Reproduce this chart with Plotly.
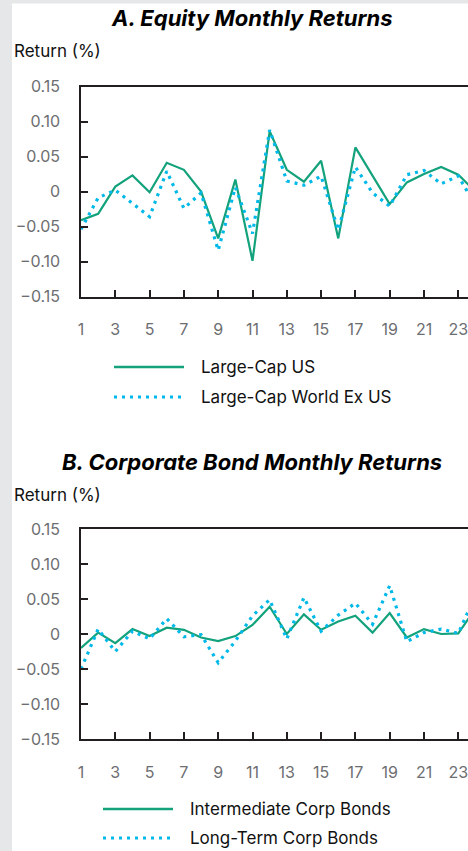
import plotly.graph_objects as go

# Monthly return series (decimal returns)
months = list(range(1, 25))
large_cap_us = [-0.041, -0.032, 0.007, 0.023, -0.001, 0.041, 0.031, 0.000, -0.067, 0.017,
                -0.099, 0.086, 0.031, 0.014, 0.044, -0.067, 0.063, 0.022, -0.018, 0.013,
                0.025, 0.035, 0.024, 0.000]
large_cap_world_ex_us = [-0.054, -0.009, 0.002, -0.017, -0.036, 0.029, -0.024, -0.002, -0.084, 0.006,
                         -0.060, 0.088, 0.015, 0.009, 0.022, -0.055, 0.035, -0.002, -0.021, 0.024,
                         0.030, 0.011, 0.022, -0.020]
intermediate_corp = [-0.020, 0.002, -0.013, 0.007, -0.003, 0.009, 0.006, -0.005, -0.010, -0.003,
                     0.013, 0.039, 0.000, 0.028, 0.006, 0.018, 0.026, 0.002, 0.030, -0.005,
                     0.007, 0.000, 0.001, 0.036]
long_term_corp = [-0.050, 0.007, -0.025, 0.004, -0.007, 0.022, -0.004, -0.001, -0.041, -0.010,
                  0.026, 0.049, -0.007, 0.052, 0.004, 0.027, 0.044, 0.014, 0.069, -0.011,
                  0.002, 0.007, 0.001, 0.055]

# Axis tick labels
x_tickvals = list(range(1, 24, 2))
x_ticktext = [str(v) for v in x_tickvals]
y_tickvals = [0.15, 0.10, 0.05, 0.0, -0.05, -0.10, -0.15]
y_ticktext = ["0.15", "0.10", "0.05", "0", "\u22120.05", "\u22120.10", "\u22120.15"]

panel_titles = ["A. Equity Monthly Returns", "B. Corporate Bond Monthly Returns"]
y_title = "Return (%)"
legend_names = [["Large-Cap US", "Large-Cap World Ex US"],
                ["Intermediate Corp Bonds", "Long-Term Corp Bonds"]]

W, H = 468, 851
GREEN = "#13a27c"
CYAN = "#00b9e8"
AXIS = "#231f20"
TICKFONT = "#6d6e71"
FONT = "Inter, Roboto, sans-serif"
DOT = "3px,5px"


def px(x):
    return x / W


def py(y):
    return 1 - y / H


fig = go.Figure()

series = [(large_cap_us, large_cap_world_ex_us, "x", "y"),
          (intermediate_corp, long_term_corp, "x2", "y2")]
for (solid, dotted, xa, ya), names in zip(series, legend_names):
    fig.add_trace(go.Scatter(x=months, y=solid, mode="lines", name=names[0],
                             line=dict(color=GREEN, width=2.2), xaxis=xa, yaxis=ya,
                             showlegend=False))
    fig.add_trace(go.Scatter(x=months, y=dotted, mode="lines", name=names[1],
                             line=dict(color=CYAN, width=3.2, dash=DOT), xaxis=xa, yaxis=ya,
                             showlegend=False))

x_left = 81
x_range = [1, 1 + (W - x_left) / 17.15]
panels = [dict(top=86.5, bottom=296.5), dict(top=529, bottom=739)]

axis_common = dict(showline=True, linecolor=AXIS, linewidth=1.5, showgrid=False, zeroline=False,
                   ticks="inside", ticklen=7, tickwidth=1.5, tickcolor=AXIS, automargin=False,
                   ticklabeloverflow="allow",
                   tickfont=dict(family=FONT, size=16, color=TICKFONT))

layout_axes = {}
for i, p in enumerate(panels):
    sfx = "" if i == 0 else str(i + 1)
    layout_axes["xaxis" + sfx] = dict(axis_common, domain=[px(x_left), 1], range=x_range,
                                      tickvals=x_tickvals, ticktext=x_ticktext, mirror=True,
                                      ticklabelstandoff=18, anchor="y" + sfx)
    layout_axes["yaxis" + sfx] = dict(axis_common, domain=[py(p["bottom"]), py(p["top"])],
                                      range=[-0.15, 0.15], tickvals=y_tickvals, ticktext=y_ticktext,
                                      ticklabelstandoff=16, anchor="x" + sfx)

annotations = []
shapes = [
    dict(type="rect", xref="paper", yref="paper", x0=0, x1=px(12), y0=0, y1=1,
         fillcolor="#e6e7e8", line=dict(width=0), layer="below"),
    dict(type="rect", xref="paper", yref="paper", x0=0, x1=1, y0=py(3.5), y1=1,
         fillcolor="#e6e7e8", line=dict(width=0), layer="below"),
]

title_y = [18, 462]
ylab_y = [51, 495]
legend_rows = [(114, 184, 199, [367, 397]), (103, 173, 188, [809, 838])]

for i in range(2):
    annotations.append(dict(text="<b><i>" + panel_titles[i] + "</i></b>", xref="paper", yref="paper",
                            x=px(252), y=py(title_y[i]), xanchor="center", yanchor="middle",
                            showarrow=False, font=dict(family=FONT, size=22, color="#000000")))
    annotations.append(dict(text=y_title, xref="paper", yref="paper", x=px(12), y=py(ylab_y[i]),
                            xanchor="left", yanchor="middle", showarrow=False,
                            font=dict(family=FONT, size=17, color="#111111")))
    x0, x1, xt, rows = legend_rows[i]
    styles = [dict(color=GREEN, width=2.5), dict(color=CYAN, width=3.2, dash=DOT)]
    for name, yy, st in zip(legend_names[i], rows, styles):
        shapes.append(dict(type="line", xref="paper", yref="paper", x0=px(x0), x1=px(x1),
                           y0=py(yy), y1=py(yy), line=st))
        annotations.append(dict(text=name, xref="paper", yref="paper", x=px(xt), y=py(yy),
                                xanchor="left", yanchor="middle", showarrow=False,
                                font=dict(family=FONT, size=17, color="#111111")))

fig.update_layout(width=W, height=H, margin=dict(l=0, r=0, t=0, b=0, pad=0, autoexpand=False),
                  paper_bgcolor="white", plot_bgcolor="white",
                  font=dict(family=FONT), showlegend=False,
                  annotations=annotations, shapes=shapes, **layout_axes)

fig.write_html("out.html", config={"displayModeBar": False})
